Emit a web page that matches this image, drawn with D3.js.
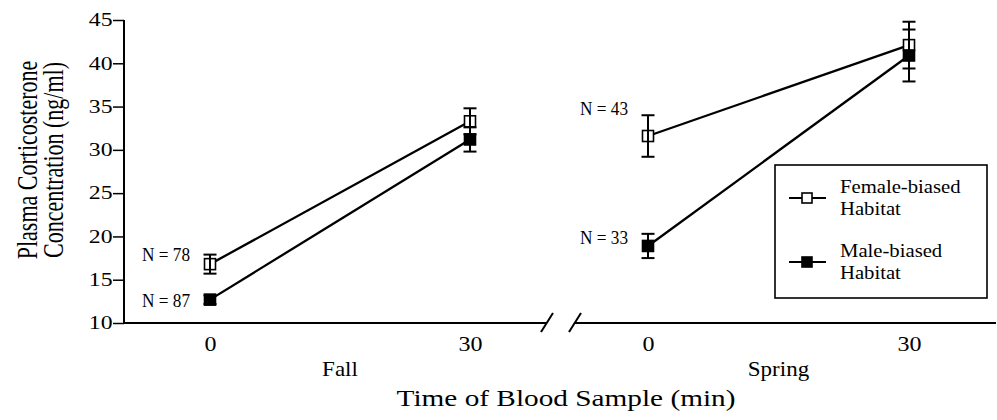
<!DOCTYPE html>
<html>
<head>
<meta charset="utf-8">
<script src="https://cdn.jsdelivr.net/npm/d3@7"></script>
<style>
  html, body { margin: 0; padding: 0; background: #fff; }
  svg { display: block; }
  text { font-family: "Liberation Serif", "Times New Roman", serif; fill: #000; }
</style>
</head>
<body>
<svg id="chart" width="997" height="420"></svg>
<script>
// ---- data ----
const seasons = ["Fall", "Spring"];
const times = [0, 30];
const seriesNames = ["Female-biased Habitat", "Male-biased Habitat"];
// mean values [season][time]
const femaleMeans = [[16.8, 33.3], [31.6, 42.1]];
const femaleSE    = [[1.1, 1.5], [2.4, 2.7]];
const maleMeans   = [[12.7, 31.2], [18.9, 40.9]];
const maleSE      = [[0.5, 1.4], [1.4, 3.0]];
const sampleN = { female: [78, 43], male: [87, 33] };
const yTicks = [10, 15, 20, 25, 30, 35, 40, 45];

// ---- layout ----
const FONT = '"Liberation Serif", "Times New Roman", serif';
const svg = d3.select("#chart");
const axisX = 124, plotTop = 20, plotBottom = 323;
const y = d3.scaleLinear().domain([10, 45]).range([plotBottom, plotTop]);
const xSeason = [
  d3.scaleLinear().domain([0, 30]).range([210, 470]),
  d3.scaleLinear().domain([0, 30]).range([648, 909])
];
const breakLeft = 547, breakRight = 575, axisEnd = 996;

const series = [
  { key: "female", means: femaleMeans, se: femaleSE, fill: "#fff" },
  { key: "male", means: maleMeans, se: maleSE, fill: "#000" }
];

// helper: horizontally stretched text (the original figure is wider than tall)
function sText(parent, x, yPos, str, size, sx, anchor) {
  return parent.append("text")
    .attr("transform", `translate(${x},${yPos}) scale(${sx},1)`)
    .attr("text-anchor", anchor || "start")
    .style("font-family", FONT).style("font-size", size + "px")
    .text(str);
}

// y axis
const ySX = 1.32;
const yAxis = d3.axisLeft(y).tickValues(yTicks).tickSize(11).tickPadding(0);
const gy = svg.append("g").attr("transform", `translate(${axisX},0)`).call(yAxis);
gy.select(".domain").attr("stroke-width", 2).attr("d", `M0,${plotTop}V${plotBottom}`);
gy.selectAll(".tick line").attr("stroke-width", 1.5);
gy.selectAll(".tick text")
  .attr("x", -11.5 / ySX).attr("transform", `scale(${ySX},1)`)
  .style("font-family", FONT).style("font-size", "18px").attr("fill", "#000");

// x axis line with break
svg.append("path").attr("fill", "none").attr("stroke", "#000").attr("stroke-width", 2)
  .attr("d", `M${axisX},${plotBottom}H${breakLeft}M${breakRight},${plotBottom}H${axisEnd}`);
[breakLeft, breakRight].forEach(bx => {
  svg.append("line").attr("x1", bx - 6).attr("y1", plotBottom + 9).attr("x2", bx + 6).attr("y2", plotBottom - 10)
    .attr("stroke", "#000").attr("stroke-width", 2);
});

// x tick labels via axes (no tick marks)
const xSX = 1.2;
seasons.forEach((s, i) => {
  const ax = d3.axisBottom(xSeason[i]).tickValues(times).tickSize(0).tickPadding(14);
  const g = svg.append("g").attr("transform", `translate(0,${plotBottom})`).call(ax);
  g.select(".domain").remove();
  g.selectAll(".tick text").attr("transform", `scale(${xSX},1)`)
    .style("font-family", FONT).style("font-size", "20px").attr("fill", "#000");
  sText(svg, (xSeason[i](0) + xSeason[i](30)) / 2, 376, s, 20, 1.15, "middle");
});

sText(svg, 566, 406, "Time of Blood Sample (min)", 24, 1.22, "middle");

// y title (rotated, glyphs widened horizontally)
const yt = svg.append("text").attr("transform", "translate(0,160) scale(1.32,1) rotate(-90)")
  .attr("text-anchor", "middle").style("font-family", FONT).style("font-size", "22px");
yt.append("tspan").attr("x", 0).attr("y", 28).text("Plasma Corticosterone");
yt.append("tspan").attr("x", 0).attr("y", 47.5).text("Concentration (ng/ml)");

// lines
series.forEach(sr => {
  seasons.forEach((s, i) => {
    const pts = times.map((t, j) => [xSeason[i](t), y(sr.means[i][j])]);
    svg.append("path").attr("d", d3.line()(pts)).attr("fill", "none").attr("stroke", "#000").attr("stroke-width", 2.3);
  });
});

// squares and error bars
const sq = 11, cap = 13;
series.forEach(sr => {
  seasons.forEach((s, i) => {
    times.forEach((t, j) => {
      const cx = xSeason[i](t), m = sr.means[i][j], e = sr.se[i][j];
      svg.append("rect").attr("x", cx - sq / 2).attr("y", y(m) - sq / 2).attr("width", sq).attr("height", sq)
        .attr("fill", sr.fill).attr("stroke", "#000").attr("stroke-width", 1.6);
      const g = svg.append("g").attr("stroke", "#000").attr("stroke-width", 2);
      g.append("line").attr("x1", cx).attr("x2", cx).attr("y1", y(m - e)).attr("y2", y(m + e));
      [m - e, m + e].forEach(v => g.append("line").attr("x1", cx - cap / 2).attr("x2", cx + cap / 2).attr("y1", y(v)).attr("y2", y(v)));
    });
  });
});

// N labels
const nLabels = [
  { key: "female", season: 0, dy: -3 },
  { key: "male", season: 0, dy: 7 },
  { key: "female", season: 1, dy: -21 },
  { key: "male", season: 1, dy: -2 }
];
nLabels.forEach(l => {
  const sr = series.find(s => s.key === l.key);
  const m = sr.means[l.season][0];
  svg.append("text").attr("x", xSeason[l.season](0) - 68).attr("y", y(m) + l.dy)
    .attr("textLength", 48).attr("lengthAdjust", "spacingAndGlyphs")
    .style("font-family", FONT).style("font-size", "18px").text(`N = ${sampleN[l.key][l.season]}`);
});

// legend
const lg = svg.append("g");
lg.append("rect").attr("x", 775).attr("y", 165).attr("width", 212).attr("height", 133)
  .attr("fill", "#fff").attr("stroke", "#000").attr("stroke-width", 1.6);
seriesNames.forEach((name, i) => {
  const ly = 198 + i * 64;
  lg.append("line").attr("x1", 789).attr("x2", 826).attr("y1", ly).attr("y2", ly).attr("stroke", "#000").attr("stroke-width", 2);
  lg.append("rect").attr("x", 807 - 5).attr("y", ly - 5).attr("width", 10).attr("height", 10)
    .attr("fill", series[i].fill).attr("stroke", "#000").attr("stroke-width", 1.6);
  const words = name.split(" ");
  sText(lg, 840, ly - 5, words[0], 18, 1.15);
  sText(lg, 840, ly + 17, words[1], 18, 1.15);
});
</script>
</body>
</html>
